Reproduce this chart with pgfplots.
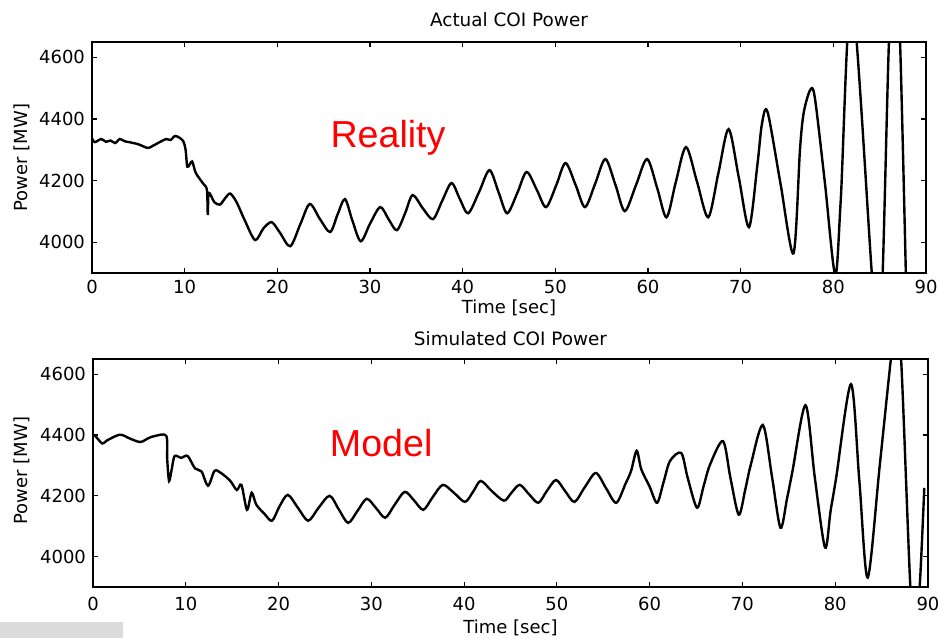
\documentclass[border=0pt]{standalone}
\usepackage{fontspec}
\setmainfont{DejaVu Sans}
\newfontfamily\arialfont{Liberation Sans}
\usepackage{pgfplots}
\pgfplotsset{compat=1.18}

\pgfplotsset{
  coiaxis/.style={
    scale only axis,
    xmin=0, xmax=90, ymin=3900, ymax=4650,
    xtick={0,10,...,90}, ytick={4000,4200,4400,4600},
    tick align=inside, tick pos=both,
    major tick length=2.5pt,
    axis line style={line width=0.9pt},
    every tick/.style={line width=0.6pt, black},
    scaled y ticks=false,
    /pgf/number format/1000 sep={},
    /pgf/number format/assume math mode=true,
    tick label style={font=\fontsize{9}{10}\selectfont},
    label style={font=\fontsize{9}{10}\selectfont},
    title style={font=\fontsize{9.2}{10}\selectfont, at={(0.5,1)}, anchor=base},
    xlabel={Time [sec]}, ylabel={Power [MW]},
    clip mode=individual,
  },
  coiline/.style={black, line width=1.2pt, smooth, tension=0.5},
}

\begin{document}
\begin{tikzpicture}
% top: measured
\begin{axis}[coiaxis,
  width=417pt, height=115.5pt,
  at={(0pt,0pt)}, anchor=south west,
  title={Actual COI Power}, title style={yshift=1.8pt},
  xlabel style={at={(axis description cs:0.5,-0.152)}, anchor=center},
  ylabel style={at={(axis description cs:-0.084,0.5)}, anchor=center},
]
\addplot[coiline] coordinates {
(0,4338) (0.3,4325) (1,4335) (1.5,4326) (2,4330) (2.5,4322) (3,4335) (3.5,4328)
(4,4325) (5,4318) (6,4306) (6.5,4312) (7,4320) (7.5,4328) (8,4335) (8.5,4332)
(9,4345) (9.8,4330) (10.1,4300) (10.3,4245) (10.8,4262)
(11.2,4225) (12.0,4190) (12.4,4170) (12.5,4088) (12.6,4160) (13.2,4130)
(13.8,4122) (14.3,4140) (14.9,4158) (15.6,4130) (16.5,4070) (17.6,4007)
(18.5,4045) (19.4,4065) (20.3,4030) (21.4,3987) (22.5,4060) (23.5,4124)
(24.6,4075) (25.7,4033) (26.5,4090) (27.3,4140) (28.1,4070) (29.0,4003)
(30.0,4060) (31.1,4114) (32.0,4075) (32.9,4039) (33.8,4095) (34.6,4153)
(35.7,4110) (36.8,4075) (37.8,4135) (38.8,4192) (39.7,4140) (40.6,4094)
(41.8,4165) (42.9,4234) (43.9,4160) (44.8,4094) (45.9,4160) (46.9,4228)
(48.0,4170) (49.0,4114) (50.1,4185) (51.1,4257) (52.2,4185) (53.2,4114)
(54.3,4190) (55.4,4270) (56.5,4185) (57.5,4101) (58.7,4185) (59.9,4270)
(61.0,4175) (62.0,4081) (63.0,4195) (64.1,4309) (65.3,4195) (66.5,4081)
(67.6,4225) (68.7,4367) (69.8,4210) (70.9,4049) (71.8,4250) (72.3,4385)
(72.9,4423) (74.3,4190) (75.7,3964) (76.4,4300) (76.8,4420) (77.5,4494)
(78.0,4470) (79.1,4190) (80.2,3895) (80.8,4137) (82.0,4800) (84.2,3880)
(84.8,3750) (85.3,3880) (86.0,4650) (86.6,4950) (87.2,4650) (87.9,3800)
};
\node[anchor=base west, text=red, font=\arialfont\fontsize{18.8}{20}\selectfont, inner sep=0pt]
  at (axis cs:25.7,4309) {Reality};
\end{axis}

% bottom: simulated
\begin{axis}[coiaxis,
  width=417.5pt, height=114pt,
  at={(0.5pt,-157pt)}, anchor=south west,
  title={Simulated COI Power}, title style={yshift=1pt},
  xticklabel style={yshift=-1.5pt},
  xlabel style={at={(axis description cs:0.5,-0.178)}, anchor=center},
  ylabel style={at={(axis description cs:-0.085,0.51)}, anchor=center},
]
\addplot[coiline] coordinates {
(0,4401) (0.3,4395) (1.0,4372) (1.5,4382) (2.9,4401) (4.0,4388) (5.1,4377)
(6.0,4390) (6.7,4397) (7.9,4397) (8.0,4320) (8.2,4249) (8.5,4290) (8.8,4331)
(9.5,4325) (10.2,4331) (11.0,4290) (11.7,4280) (12.4,4233) (13.1,4282)
(13.8,4275) (14.8,4249) (15.5,4219) (16.0,4236) (16.6,4154) (17.1,4210)
(17.6,4171) (18.5,4140) (19.3,4118) (20.1,4165) (21.0,4203) (22.1,4160)
(23.2,4118) (24.3,4160) (25.5,4200) (26.5,4155) (27.5,4111) (28.5,4150)
(29.5,4190) (30.5,4160) (31.5,4128) (32.5,4170) (33.6,4213) (34.6,4185)
(35.6,4154) (36.6,4195) (37.7,4236) (38.9,4210) (40.1,4180) (41.0,4215)
(41.8,4249) (43.0,4215) (44.3,4184) (45.1,4210) (46.0,4236) (47.0,4205)
(48.0,4177) (48.9,4215) (49.9,4252) (50.9,4215) (51.9,4180) (53.0,4228)
(54.2,4275) (55.3,4225) (56.4,4177) (57.4,4240) (58.0,4282) (58.6,4348)
(59.1,4287) (60.0,4230) (60.8,4177) (61.5,4245) (62.2,4315) (63.4,4341)
(64.1,4259) (65.1,4161) (65.8,4230) (66.5,4302) (67.9,4380) (68.7,4260)
(69.6,4138) (70.3,4220) (70.9,4302) (72.2,4433) (73.2,4260) (74.1,4095)
(74.8,4190) (75.4,4282) (76.8,4498) (77.8,4260) (78.9,4030) (79.5,4150)
(80.1,4259) (81.7,4567) (82.6,4250) (83.5,3931) (84.8,4300) (86.0,4650)
(86.5,4760) (87.1,4650) (88.1,3900) (88.6,3800) (89.1,3900) (89.6,4226)
};
\node[anchor=base west, text=red, font=\arialfont\fontsize{18.8}{20}\selectfont, inner sep=0pt]
  at (axis cs:25.5,4328) {Model};
\fill[black!14] (rel axis cs:-0.1114,-0.1535) rectangle (rel axis cs:0.0359,-0.2237);
\end{axis}
% page frame: 938 x 638 px at 0.5pt per px, top axis corner at (92,273) px
\pgfresetboundingbox
\useasboundingbox (-46pt,-182.5pt) rectangle (423pt,136.5pt);
\end{tikzpicture}
\end{document}
